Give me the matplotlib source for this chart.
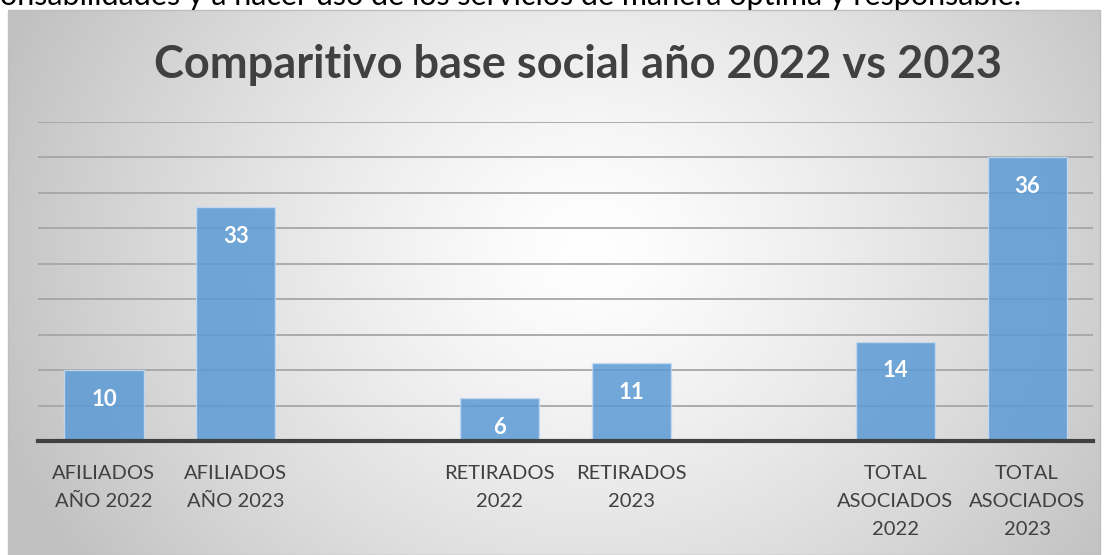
import numpy as np
import matplotlib
matplotlib.use("Agg")
import matplotlib.pyplot as plt
from matplotlib.patches import Rectangle

# ---- data ----
categories = ["AFILIADOS\nAÑO 2022", "AFILIADOS\nAÑO 2023", "",
              "RETIRADOS\n2022", "RETIRADOS\n2023", "",
              "TOTAL\nASOCIADOS\n2022", "TOTAL\nASOCIADOS\n2023"]
bar_heights = [10, 33, None, 6, 11, None, 14, 40]
bar_labels = ["10", "33", "", "6", "11", "", "14", "36"]
title = "Comparitivo base social año 2022 vs 2023"
doc_text = "onsabilidades y a hacer uso de los servicios de manera óptima y responsable."

W, H = 1107, 555
DPI = 100
FONT = "Lato"
plt.rcParams["font.family"] = [FONT, "DejaVu Sans"]

fig = plt.figure(figsize=(W / DPI, H / DPI), dpi=DPI)
fig.patch.set_facecolor("white")

def fx(px):
    return px / W

def fy(py):
    return 1 - py / H

# ---- chart box background (radial gradient) ----
bx0, by0, bx1, by1 = 8, 10, 1100, 555
bg = fig.add_axes([fx(bx0), fy(by1), fx(bx1 - bx0), (by1 - by0) / H], zorder=0)
nx, ny = bx1 - bx0, by1 - by0
xx, yy = np.meshgrid(np.arange(nx) + bx0, np.arange(ny) + by0)
cx, cy, rx, ry = 590, 250, 620, 540
d = np.sqrt(((xx - cx) / rx) ** 2 + ((yy - cy) / ry) ** 2)
t = np.clip(d, 0, 1) ** 1.3
g0, g1 = 1.0, 0.76
val = g0 * (1 - t) + g1 * t
img = np.dstack([val, val, val])
bg.imshow(img, aspect="auto", extent=[0, 1, 0, 1], origin="upper")
bg.set_xlim(0, 1)
bg.set_ylim(0, 1)
bg.axis("off")
bg.add_patch(Rectangle((0, 0), 1, 1, transform=bg.transAxes, fill=False,
                       edgecolor="#bfbfbf", lw=1.0, clip_on=False))

# ---- main axes ----
left, right, top, bottom = 38, 1093, 121.7, 441
ax = fig.add_axes([fx(left), fy(bottom), fx(right - left), (bottom - top) / H], zorder=1)
ax.patch.set_alpha(0)
x = np.arange(len(categories))
for i, (h, lab) in enumerate(zip(bar_heights, bar_labels)):
    if h is None:
        continue
    ax.bar(x[i], h, width=0.6, color="#5b9bd5", alpha=0.85,
           edgecolor="#c9dcf0", linewidth=1.0, zorder=2)
    ax.annotate(lab, (x[i], h), xytext=(0, -21), textcoords="offset points",
                ha="center", va="center", color="white", fontsize=16,
                fontweight="bold", zorder=4)

ax.set_xlim(-0.5, len(categories) - 0.5)
ax.set_ylim(0, 45)
ax.set_yticks(np.arange(5, 46, 5))
ax.yaxis.grid(True, color="#a6a6a6", linewidth=1.3, zorder=1)
ax.set_axisbelow(True)
ax.tick_params(axis="y", left=False, labelleft=False)
ax.axhline(0, color="#404040", linewidth=3.0, zorder=3, clip_on=False)
for s in ax.spines.values():
    s.set_visible(False)

tick_pos = [i for i, c in enumerate(categories) if c]
ax.set_xticks(tick_pos)
ax.set_xticklabels([categories[i] for i in tick_pos], fontsize=14.5,
                   color="#404040", linespacing=1.8)
ax.tick_params(axis="x", length=0, pad=17)

# ---- title ----
fig.text(fx(578), fy(65), title, ha="center", va="center",
         fontsize=32.5, fontweight="bold", color="#404040", zorder=5)

# ---- document text above chart (cut off as in the source) ----
fig.text(0, fy(5), doc_text, ha="left", va="baseline", fontsize=22,
         color="black", zorder=5)

fig.savefig("out.png", dpi=DPI)
